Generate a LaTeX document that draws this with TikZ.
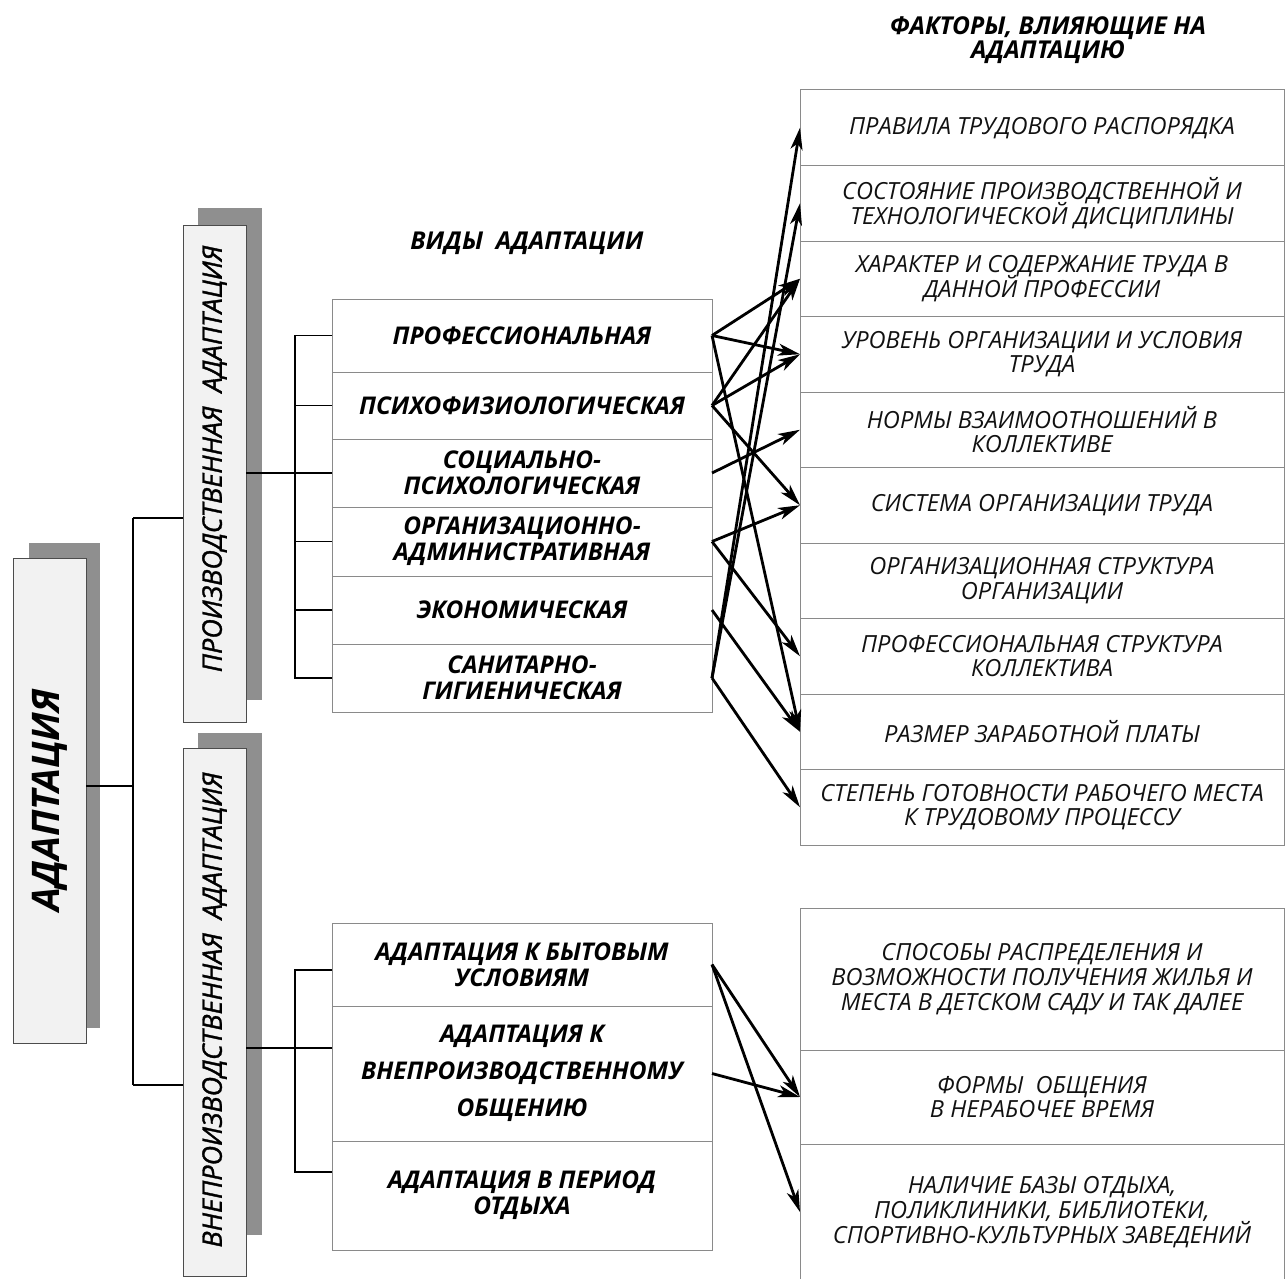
\documentclass[tikz,border=0pt]{standalone}
\usepackage{fontspec}
\setmainfont{Open Sans}
\newfontfamily\semibfont[FakeBold=1.3]{Open Sans}
\usetikzlibrary{arrows.meta,calc}
\newcommand\tightlines{\lineskiplimit=-10pt\relax}
\definecolor{shadowgray}{HTML}{8F8F8F}
\definecolor{frontfill}{HTML}{F2F2F2}
\definecolor{boxline}{HTML}{8A8A8A}
\definecolor{txt}{HTML}{111111}
\tikzset{
 box/.style={draw=boxline, line width=0.5pt, inner sep=0pt, outer sep=0pt, align=center, text=txt},
 facbox/.style={box, minimum width=242pt, font=\fontsize{11.8}{12.3}\selectfont\itshape\tightlines},
 typebox/.style={box, minimum width=190pt, font=\fontsize{12.2}{13}\selectfont\bfseries\itshape\tightlines, text=black},
 conn/.style={line width=0.8pt, black},
 arr/.style={line width=1.4pt, black, -{Stealth[length=11pt,width=6pt,inset=3pt]}},
 frontbox/.style={fill=frontfill, draw=black!70, line width=0.5pt, inner sep=0pt, outer sep=0pt},
 vlabel/.style={rotate=90, font=\fontsize{13.5}{14}\selectfont\semibfont\itshape, text=black},
 heading/.style={font=\fontsize{12.3}{12.3}\selectfont\bfseries\itshape\tightlines, align=center}
}
\begin{document}
\begin{tikzpicture}[x=0.5pt,y=-0.5pt]
\useasboundingbox (0,0) rectangle (1286,1279);
\clip (0,0) rectangle (1286,1279);
\fill[white] (0,0) rectangle (1286,1279);

% ---- left vertical boxes with shadows
\fill[shadowgray] (29,543) rectangle (100,1028);
\node[frontbox, minimum width=36.5pt, minimum height=242.5pt] (ad) at (49.5,800.5) {};
\node[vlabel, font=\fontsize{19}{20}\selectfont\bfseries\itshape] (adt) at (ad.center) {АДАПТАЦИЯ};

\fill[shadowgray] (198,208) rectangle (262,700);
\node[frontbox, minimum width=31.5pt, minimum height=248.5pt] (prod) at (214.5,473.5) {};
\node[vlabel] (prodt) at (214.5,459) {ПРОИЗВОДСТВЕННАЯ\ \ АДАПТАЦИЯ};

\fill[shadowgray] (198,733) rectangle (262,1235);
\node[frontbox, minimum width=31.5pt, minimum height=264pt] (vne) at (214.5,1012) {};
\node[vlabel] (vnet) at (214.5,1010) {ВНЕПРОИЗВОДСТВЕННАЯ\ \ АДАПТАЦИЯ};

% ---- headings
\node[heading] (hv) at (527,243) {ВИДЫ\ \ АДАПТАЦИИ};
\node[heading] (hf) at (1048,40) {ФАКТОРЫ, ВЛИЯЮЩИЕ НА\\АДАПТАЦИЮ};

% ---- types of adaptation
\node[typebox, minimum height=36.5pt] (r1) at (522,335.5) {ПРОФЕССИОНАЛЬНАЯ};
\node[typebox, minimum height=33.5pt] (r2) at (522,405.5) {ПСИХОФИЗИОЛОГИЧЕСКАЯ};
\node[typebox, minimum height=34pt] (r3) at (522,473) {СОЦИАЛЬНО-\\ПСИХОЛОГИЧЕСКАЯ};
\node[typebox, minimum height=34.5pt] (r4) at (522,541.5) {ОРГАНИЗАЦИОННО-\\АДМИНИСТРАТИВНАЯ};
\node[typebox, minimum height=34pt] (r5) at (522,610) {ЭКОНОМИЧЕСКАЯ};
\node[typebox, minimum height=34pt] (r6) at (522,678) {САНИТАРНО-\\ГИГИЕНИЧЕСКАЯ};

\node[typebox, minimum height=41.5pt] (a1) at (522,964.5) {АДАПТАЦИЯ К БЫТОВЫМ\\УСЛОВИЯМ};
\node[typebox, minimum height=67.5pt, font=\fontsize{12.2}{18.5}\selectfont\bfseries\itshape] (a2) at (522,1073.5) {АДАПТАЦИЯ К\\ВНЕПРОИЗВОДСТВЕННОМУ\\ОБЩЕНИЮ};
\node[typebox, minimum height=54.5pt] (a3) at (522,1195.5) {АДАПТАЦИЯ В ПЕРИОД\\ОТДЫХА};

% ---- factors
\node[facbox, minimum height=37.75pt] (f1) at (1042,127.75) {ПРАВИЛА ТРУДОВОГО РАСПОРЯДКА};
\node[facbox, minimum height=37.75pt] (f2) at (1042,203.25) {СОСТОЯНИЕ ПРОИЗВОДСТВЕННОЙ И\\ТЕХНОЛОГИЧЕСКОЙ ДИСЦИПЛИНЫ};
\node[facbox, minimum height=37.75pt] (f3) at (1042,278.75) {ХАРАКТЕР И СОДЕРЖАНИЕ ТРУДА В\\ДАННОЙ ПРОФЕССИИ};
\node[facbox, minimum height=37.75pt] (f4) at (1042,354.25) {УРОВЕНЬ ОРГАНИЗАЦИИ И УСЛОВИЯ\\ТРУДА};
\node[facbox, minimum height=37.75pt] (f5) at (1042,429.75) {НОРМЫ ВЗАИМООТНОШЕНИЙ В\\КОЛЛЕКТИВЕ};
\node[facbox, minimum height=37.75pt] (f6) at (1042,505.25) {СИСТЕМА ОРГАНИЗАЦИИ ТРУДА};
\node[facbox, minimum height=37.75pt] (f7) at (1042,580.75) {ОРГАНИЗАЦИОННАЯ СТРУКТУРА\\ОРГАНИЗАЦИИ};
\node[facbox, minimum height=37.75pt] (f8) at (1042,656.25) {ПРОФЕССИОНАЛЬНАЯ СТРУКТУРА\\КОЛЛЕКТИВА};
\node[facbox, minimum height=37.75pt] (f9) at (1042,731.75) {РАЗМЕР ЗАРАБОТНОЙ ПЛАТЫ};
\node[facbox, minimum height=37.75pt] (f10) at (1042,807.25) {СТЕПЕНЬ ГОТОВНОСТИ РАБОЧЕГО МЕСТА\\К ТРУДОВОМУ ПРОЦЕССУ};

\node[facbox, minimum height=71pt, font=\fontsize{11.8}{12.5}\selectfont\itshape\tightlines] (g1) at (1042,979) {СПОСОБЫ РАСПРЕДЕЛЕНИЯ И\\ВОЗМОЖНОСТИ ПОЛУЧЕНИЯ ЖИЛЬЯ И\\МЕСТА В ДЕТСКОМ САДУ И ТАК ДАЛЕЕ};
\node[facbox, minimum height=47pt] (g2) at (1042,1097) {ФОРМЫ\ \ ОБЩЕНИЯ\\В НЕРАБОЧЕЕ ВРЕМЯ};
\node[facbox, minimum height=68pt, font=\fontsize{11.8}{12.5}\selectfont\itshape\tightlines] (g3) at (1042,1212) {НАЛИЧИЕ БАЗЫ ОТДЫХА,\\ПОЛИКЛИНИКИ, БИБЛИОТЕКИ,\\СПОРТИВНО-КУЛЬТУРНЫХ ЗАВЕДЕНИЙ};

% ---- tree connectors
\coordinate (tA) at (133,786);
\coordinate (tP) at (133,518);
\coordinate (tV) at (133,1085);
\draw[conn] (ad.east |- tA) -- (tA);
\draw[conn] (tP) -- (tV);
\draw[conn] (tP) -- (prod.west |- tP);
\draw[conn] (tV) -- (vne.west |- tV);

\draw[conn] (prod.east |- r3.west) -- (r3.west);
\draw[conn] (r1.west) -- ++(-37,0) |- (r6.west);
\draw[conn] (r2.west) -- ++(-37,0);
\draw[conn] (r4.west) -- ++(-37,0);
\draw[conn] (r5.west) -- ++(-37,0);

\coordinate (bA) at (295,970);
\coordinate (bB) at (295,1048);
\coordinate (bC) at (295,1172);
\draw[conn] (vne.east |- bB) -- (bB);
\draw[conn] (a1.west |- bA) -- (bA) -- (bC) -- (a3.west |- bC);
\draw[conn] (bB) -- (a2.west |- bB);

% ---- arrows
\draw[arr] (r1.east) -- (f3.west);
\draw[arr] (r1.east) -- (f4.west);
\draw[arr] (r1.east) -- (f9.west);
\draw[arr] (r2.east) -- (f3.west);
\draw[arr] (r2.east) -- (f4.west);
\draw[arr] (r2.east) -- (f6.west);
\draw[arr] (r3.east) -- (f5.west);
\draw[arr] (r4.east) -- (f6.west);
\draw[arr] (r4.east) -- (f8.west);
\draw[arr] (r5.east) -- (f9.west);
\draw[arr] (r6.east) -- (f1.west);
\draw[arr] (r6.east) -- (f2.west);
\draw[arr] (r6.east) -- (f10.west);

\draw[arr] (a1.east) -- (g2.west);
\draw[arr] (a1.east) -- (g3.west);
\draw[arr] (a2.east) -- (g2.west);
\end{tikzpicture}
\end{document}
